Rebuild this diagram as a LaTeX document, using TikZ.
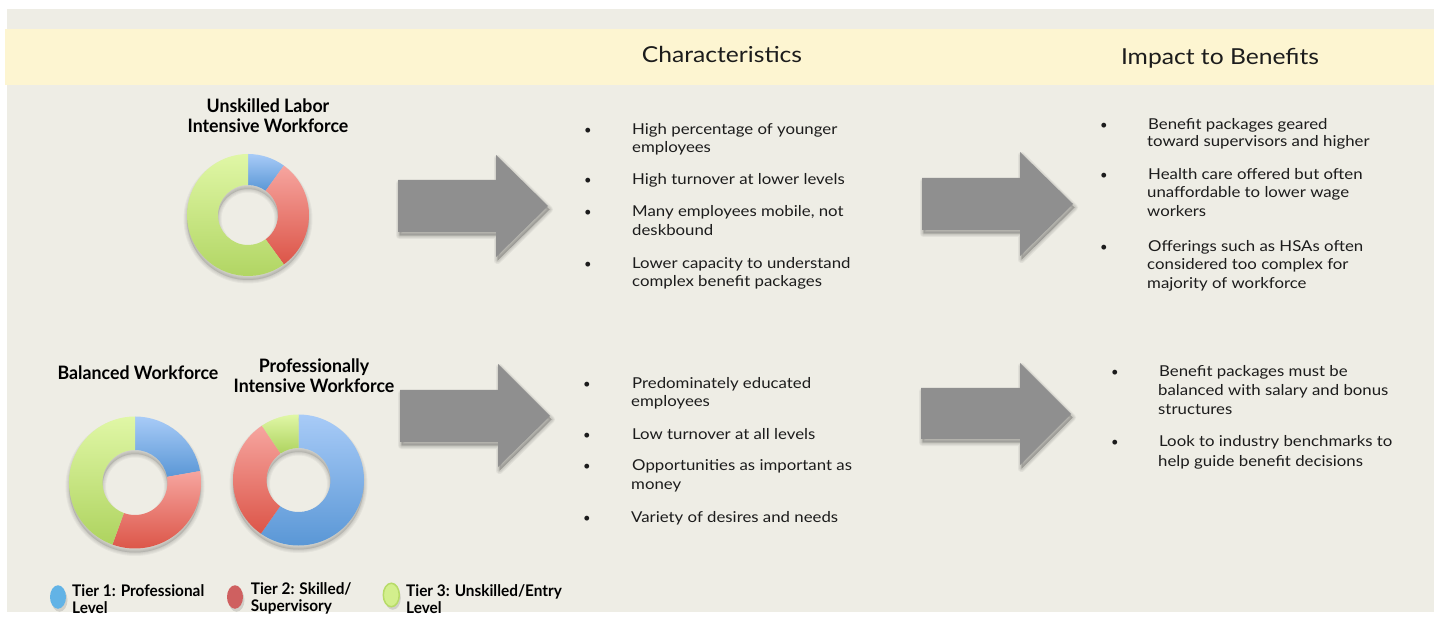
\documentclass[tikz,border=0pt]{standalone}
\usepackage{fontspec}
\setmainfont{Lato}
\newfontfamily\widefont[FakeStretch=1.12]{Lato}
\newfontfamily\narrowfont[FakeStretch=0.96]{Lato}
\usetikzlibrary{shapes.geometric}

\definecolor{bgbeige}{HTML}{EEEDE5}
\definecolor{band}{HTML}{FDF5D1}
\definecolor{arrowgray}{HTML}{8F8F8F}
\definecolor{txt}{HTML}{1C1C1C}
\definecolor{blueT}{HTML}{A8CBF7}
\definecolor{blueB}{HTML}{5A97D6}
\definecolor{redT}{HTML}{F6A59F}
\definecolor{redB}{HTML}{DC5548}
\definecolor{greenT}{HTML}{E0F7A6}
\definecolor{greenB}{HTML}{AED35F}
\definecolor{legblue}{HTML}{62B3E6}
\definecolor{legred}{HTML}{CF6060}
\definecolor{leggreen}{HTML}{D3EF8D}
\definecolor{leggreenrim}{HTML}{B7DB68}

\newcommand\barrow[8]{%
  \begin{scope}[shift={(1.5,3.5)}]
    \foreach \w in {1,3,5,7}{\filldraw[black,opacity=0.05,line width=\w pt,line join=round]
      (#1,#2) -- (#4,#2) -- (#4,#5) -- (#7,#8) -- (#4,#6) -- (#4,#3) -- (#1,#3) -- cycle;}
  \end{scope}
  \fill[arrowgray] (#1,#2) -- (#4,#2) -- (#4,#5) -- (#7,#8) -- (#4,#6) -- (#4,#3) -- (#1,#3) -- cycle;}

\newcommand\ringshadow[4]{%
  \foreach \w in {1,3,5,7}{\draw[black,opacity=0.04,line width=\w pt]
    (#1,#2+4) circle[radius=#3pt] (#1,#2+4) circle[radius=#4pt];}
  \fill[black,opacity=0.10,even odd rule] (#1,#2+4) circle[radius=#3pt] (#1,#2+4) circle[radius=#4pt];}

\newcommand\dseg[8]{%
  \shade[top color=#7,bottom color=#8]
    ([shift={(#5:#3pt)}]#1,#2) arc[start angle=#5,end angle=#6,radius=#3pt]
    -- ([shift={(#6:#4pt)}]#1,#2) arc[start angle=#6,end angle=#5,radius=#4pt] -- cycle;}

\tikzset{
  hdr/.style={anchor=base,inner sep=0pt,text=txt,font=\widefont\fontsize{22}{26}\selectfont},
  ttl/.style={anchor=base,inner sep=0pt,text=black,font=\narrowfont\fontsize{18.5}{22}\selectfont\bfseries},
  leg/.style={anchor=base west,inner sep=0pt,text=black,font=\narrowfont\fontsize{16}{18}\selectfont\bfseries},
  btxt/.style={anchor=base west,inner sep=0pt,text=txt,font=\widefont\fontsize{15}{18}\selectfont},
  bul/.style={anchor=base,inner sep=0pt,text=txt,font=\fontsize{13}{15}\selectfont},
  legdot/.style={ellipse,inner sep=0pt,minimum width=16pt,minimum height=23.5pt}
}

\begin{document}
\begin{tikzpicture}[x=1pt,y=-1pt]
\useasboundingbox (0,0) rectangle (1438,617);
\fill[white] (0,0) rectangle (1438,617);
\fill[bgbeige] (7,9) rectangle (1434,612);
\fill[band] (5,29) rectangle (1434,85);

% headers
\node[hdr] (hchar) at (722,63) {Characteristics};
\node[hdr] (himp) at (1220,65) {Impact to Benefits};

% titles
\node[ttl] (t1a) at (268,113) {Unskilled Labor};
\node[ttl] (t1b) at (268,133) {Intensive Workforce};
\node[ttl] (t2) at (138,380) {Balanced Workforce};
\node[ttl] (t3a) at (314,373) {Professionally};
\node[ttl] (t3b) at (314,393) {Intensive Workforce};

% donut 1: unskilled labor
\ringshadow{248}{215}{61}{30}
\dseg{248}{215}{61}{30}{90}{54}{blueT}{blueB}
\dseg{248}{215}{61}{30}{54}{-54}{redT}{redB}
\dseg{248}{215}{61}{30}{-54}{-270}{greenT}{greenB}

% donut 2: balanced
\ringshadow{135}{482.5}{66}{32.5}
\dseg{135}{482.5}{66}{32.5}{90}{10}{blueT}{blueB}
\dseg{135}{482.5}{66}{32.5}{10}{-110}{redT}{redB}
\dseg{135}{482.5}{66}{32.5}{-110}{-270}{greenT}{greenB}

% donut 3: professionally intensive
\ringshadow{298.5}{480}{65.5}{32}
\dseg{298.5}{480}{65.5}{32}{90}{-125}{blueT}{blueB}
\dseg{298.5}{480}{65.5}{32}{-125}{-236}{redT}{redB}
\dseg{298.5}{480}{65.5}{32}{-236}{-270}{greenT}{greenB}

% arrows
\barrow{398}{180}{232}{496}{155}{257}{548}{206}
\barrow{922}{178}{230}{1020}{152}{256}{1073}{204}
\barrow{400}{390}{442}{498}{364}{467}{550}{416}
\barrow{921}{388}{439}{1020}{363}{465}{1071}{414}

% characteristics, top
\node[bul] (b11) at (588,135) {\textbullet};
\node[btxt] (c11a) at (632,135) {High percentage of younger};
\node[btxt] (c11b) at (632,153) {employees};
\node[bul] (b12) at (588,185) {\textbullet};
\node[btxt] (c12a) at (632,185) {High turnover at lower levels};
\node[bul] (b13) at (588,216.7) {\textbullet};
\node[btxt] (c13a) at (632,216.7) {Many employees mobile, not};
\node[btxt] (c13b) at (632,236) {deskbound};
\node[bul] (b14) at (588,269) {\textbullet};
\node[btxt] (c14a) at (632,269) {Lower capacity to understand};
\node[btxt] (c14b) at (632,287) {complex benefit packages};

% impact, top
\node[bul] (b21) at (1104,129.3) {\textbullet};
\node[btxt] (i11a) at (1148,129.3) {Benefit packages geared};
\node[btxt] (i11b) at (1147,146.7) {toward supervisors and higher};
\node[bul] (b22) at (1104,180) {\textbullet};
\node[btxt] (i12a) at (1148,180) {Health care offered but often};
\node[btxt] (i12b) at (1147,198) {unaffordable to lower wage};
\node[btxt] (i12c) at (1147,217) {workers};
\node[bul] (b23) at (1104,251.7) {\textbullet};
\node[btxt] (i13a) at (1148,251.7) {Offerings such as HSAs often};
\node[btxt] (i13b) at (1147,270) {considered too complex for};
\node[btxt] (i13c) at (1147,289) {majority of workforce};

% characteristics, bottom
\node[bul] (b31) at (587,388.3) {\textbullet};
\node[btxt] (c21a) at (632,388.3) {Predominately educated};
\node[btxt] (c21b) at (631,406.7) {employees};
\node[bul] (b32) at (587,439) {\textbullet};
\node[btxt] (c22a) at (632,439) {Low turnover at all levels};
\node[bul] (b33) at (587,470.7) {\textbullet};
\node[btxt] (c23a) at (632,470.7) {Opportunities as important as};
\node[btxt] (c23b) at (631,489) {money};
\node[bul] (b34) at (587,522.7) {\textbullet};
\node[btxt] (c24a) at (631,522.7) {Variety of desires and needs};

% impact, bottom
\node[bul] (b41) at (1115,376.7) {\textbullet};
\node[btxt] (i21a) at (1159,376.7) {Benefit packages must be};
\node[btxt] (i21b) at (1158,396) {balanced with salary and bonus};
\node[btxt] (i21c) at (1158,415) {structures};
\node[bul] (b42) at (1115,446.7) {\textbullet};
\node[btxt] (i22a) at (1159,446.7) {Look to industry benchmarks to};
\node[btxt] (i22b) at (1158,466.7) {help guide benefit decisions};

% legend
\node[legdot,fill=black,opacity=0.12] (s1) at (59.5,600) {};
\node[legdot,fill=legblue] (l1) at (58,597) {};
\node[leg] (l1a) at (72,596.7) {Tier 1: Professional};
\node[leg] (l1b) at (72,613) {Level};
\node[legdot,fill=black,opacity=0.12] (s2) at (236.5,600) {};
\node[legdot,fill=legred] (l2) at (235,597) {};
\node[leg] (l2a) at (250.7,594) {Tier 2: Skilled/};
\node[leg] (l2b) at (250.7,611.7) {Supervisory};
\node[legdot,fill=black,opacity=0.12] (s3) at (392.8,598) {};
\node[legdot,fill=leggreen,draw=leggreenrim,line width=1.5pt] (l3) at (391.3,595) {};
\node[leg] (l3a) at (406,596.7) {Tier 3: Unskilled/Entry};
\node[leg] (l3b) at (406,613) {Level};
\end{tikzpicture}
\end{document}
